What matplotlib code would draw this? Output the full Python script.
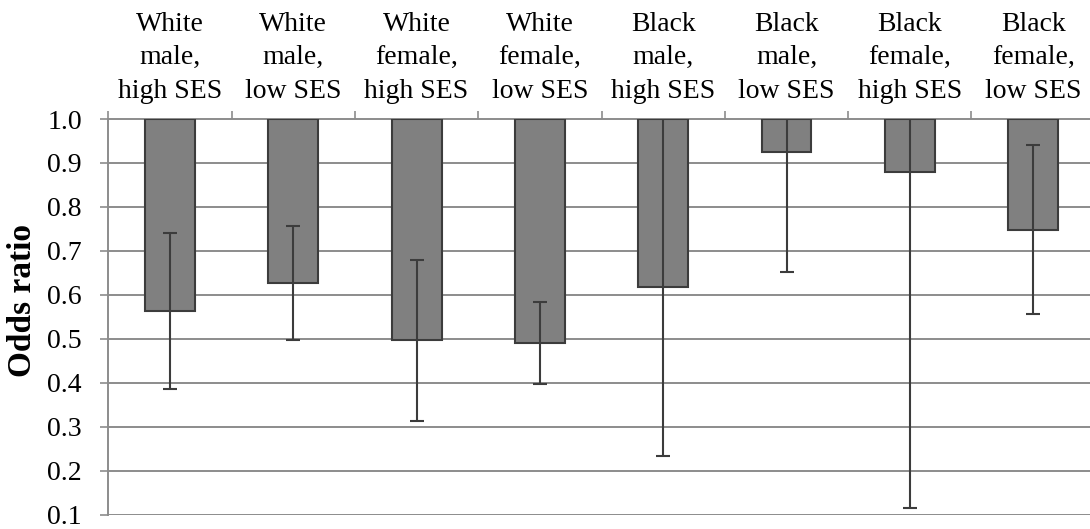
import matplotlib
matplotlib.use("Agg")
import matplotlib.pyplot as plt
import numpy as np

# Odds ratios with 95% confidence intervals by race, sex and SES group
categories = [
    "White\nmale,\nhigh SES",
    "White\nmale,\nlow SES",
    "White\nfemale,\nhigh SES",
    "White\nfemale,\nlow SES",
    "Black\nmale,\nhigh SES",
    "Black\nmale,\nlow SES",
    "Black\nfemale,\nhigh SES",
    "Black\nfemale,\nlow SES",
]
odds_ratio = [0.563, 0.627, 0.497, 0.490, 0.617, 0.924, 0.880, 0.748]
ci_lower = [0.387, 0.498, 0.314, 0.398, 0.233, 0.651, 0.116, 0.556]
ci_upper = [0.740, 0.756, 0.680, 0.583, 1.63, 1.31, 6.65, 0.941]
y_ticks = [0.1, 0.2, 0.3, 0.4, 0.5, 0.6, 0.7, 0.8, 0.9, 1.0]
reference = 1.0

plt.rcParams["font.family"] = ["Liberation Serif", "DejaVu Serif"]

fig = plt.figure(figsize=(10.9, 5.29), dpi=100)
ax = fig.add_axes([0.0994, 0.0270, 0.905, 0.7480])

n = len(categories)
x = np.arange(n) + 0.5
or_arr = np.array(odds_ratio)
lo = np.array(ci_lower)
hi = np.array(ci_upper)

grid_col = "#8c8c8c"
dark = "#3c3c3c"

# Horizontal gridlines
for yv in y_ticks[:-1]:
    ax.axhline(yv, color=grid_col, lw=1.4, zorder=0)

# Bars hang from the reference line (OR = 1)
ax.bar(x, or_arr - reference, bottom=reference, width=0.405,
       color="#808080", edgecolor=dark, linewidth=1.5, zorder=2)

ax.errorbar(x, or_arr, yerr=[or_arr - lo, hi - or_arr], fmt="none",
            ecolor=dark, elinewidth=1.5, capsize=4.7, capthick=1.5, zorder=3)

ax.set_xlim(0, n)
ax.set_ylim(0.1, 1.0)
ax.set_yticks(y_ticks)
ax.set_yticklabels([f"{v:.1f}" for v in y_ticks], fontsize=20)

# Category axis sits on the reference line at the top
ax.xaxis.tick_top()
ax.set_xticks(x)
ax.set_xticklabels(categories, fontsize=20, linespacing=1.45)
ax.set_xticks(np.arange(n + 1), minor=True)
ax.tick_params(axis="x", which="major", length=0, pad=11)
ax.tick_params(axis="x", which="minor", length=6, width=1.2, color=grid_col, top=True, bottom=False)
ax.tick_params(axis="y", which="major", length=6, width=1.2, color=grid_col, pad=13)

for side in ["right", "bottom"]:
    ax.spines[side].set_visible(False)
for side in ["top", "left"]:
    ax.spines[side].set_color(grid_col)
    ax.spines[side].set_linewidth(1.4)
ax.spines["top"].set_zorder(1)

ax.set_ylabel("Odds ratio", fontsize=24, fontweight="bold")
ax.yaxis.set_label_coords(-0.0875, 0.541)
ax.yaxis.label.set_va("center")

fig.savefig("out.png", dpi=100)
